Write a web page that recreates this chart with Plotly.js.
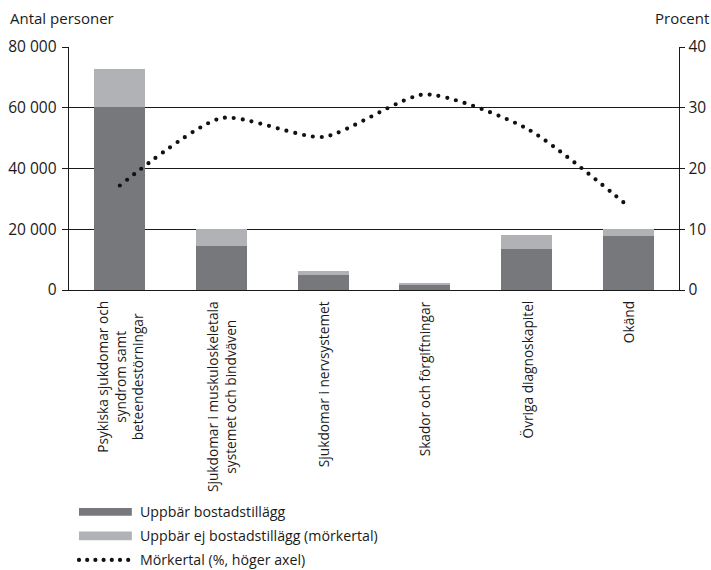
<!DOCTYPE html>
<html>
<head>
<meta charset="utf-8">
<script src="https://cdn.plot.ly/plotly-3.0.1.min.js"></script>
<style>
html,body{margin:0;padding:0;background:#fff;}
#chart{width:711px;height:570px;}
.scatterlayer .js-line{stroke-linecap:round;}
.shapelayer path{stroke-linecap:round;}
</style>
</head>
<body>
<div id="chart"></div>
<script>
// ---- data ----
var categories = [
  "Psykiska sjukdomar och<br>syndrom samt<br>beteendestörningar",
  "Sjukdomar i muskuloskeletala<br>systemet och bindväven",
  "Sjukdomar i nervsystemet",
  "Skador och förgiftningar",
  "Övriga diagnoskapitel",
  "Okänd"
];
var uppbar = [60200, 14500, 4900, 1800, 13400, 17700];          // Uppbär bostadstillägg
var ejUppbar = [12400, 5600, 1500, 500, 4700, 2400];            // Uppbär ej bostadstillägg (mörkertal)
var morkertal = [17.2, 28.3, 25.2, 32.2, 26.6, 13.8];            // Mörkertal (%)
var seriesNames = ["Uppbär bostadstillägg", "Uppbär ej bostadstillägg (mörkertal)", "Mörkertal (%, höger axel)"];
var leftTitle = "Antal personer";
var rightTitle = "Procent";

var FONT = "Open Sans, Noto Sans, sans-serif";
var TXT = "#1a1a1a";
var DARK = "#77787c";
var LIGHT = "#b1b2b5";

var traces = [
  {type: "bar", x: categories, y: uppbar, name: seriesNames[0],
   marker: {color: DARK, line: {width: 0}}, showlegend: false, hoverinfo: "none"},
  {type: "bar", x: categories, y: ejUppbar, name: seriesNames[1],
   marker: {color: LIGHT, line: {width: 0}}, showlegend: false, hoverinfo: "none"},
  {type: "scatter", mode: "lines", x: categories, y: morkertal, yaxis: "y2", name: seriesNames[2],
   line: {color: "#111", width: 4.2, dash: "0px,9px", shape: "spline", smoothing: 0.65},
   showlegend: false, hoverinfo: "none"}
];

// x-axis labels (centred multi-line, rotated)
var annotations = categories.map(function (c) {
  return {xref: "x", yref: "paper", x: c, y: 0, yshift: -9, xanchor: "center", yanchor: "top",
          text: c, showarrow: false, textangle: -90, align: "center",
          font: {family: FONT, size: 13.7, color: TXT}};
});
annotations.push({xref: "paper", yref: "paper", x: -0.1, y: 1.119, xanchor: "left", yanchor: "middle",
  text: leftTitle, showarrow: false, font: {family: FONT, size: 15, color: TXT}});
annotations.push({xref: "paper", yref: "paper", x: 1.053, y: 1.119, xanchor: "right", yanchor: "middle",
  text: rightTitle, showarrow: false, font: {family: FONT, size: 15, color: TXT}});

// custom legend
var legY = [-0.913, -1.012, -1.111];
var legShapes = [
  {type: "rect", xref: "paper", yref: "paper", x0: 0.0164, x1: 0.103, y0: legY[0] - 0.016, y1: legY[0] + 0.016,
   fillcolor: DARK, line: {width: 0}},
  {type: "rect", xref: "paper", yref: "paper", x0: 0.0164, x1: 0.103, y0: legY[1] - 0.018, y1: legY[1] + 0.018,
   fillcolor: LIGHT, line: {width: 0}},
  {type: "line", xref: "paper", yref: "paper", x0: 0.0164, x1: 0.098, y0: legY[2], y1: legY[2],
   line: {color: "#111", width: 4.2, dash: "0px,8.2px"}}
];
seriesNames.forEach(function (n, i) {
  annotations.push({xref: "paper", yref: "paper", x: 0.113, y: legY[i], xanchor: "left", yanchor: "middle",
    text: n, showarrow: false, font: {family: FONT, size: 14.2, color: TXT}});
});

var layout = {
  width: 711, height: 570,
  margin: {l: 69, r: 32, t: 47, b: 280, pad: 0},
  paper_bgcolor: "#fff", plot_bgcolor: "#fff",
  barmode: "stack", bargap: 0.5,
  separators: ", ",
  font: {family: FONT, size: 14, color: TXT},
  showlegend: false,
  xaxis: {type: "category", showticklabels: false, ticks: "", showgrid: false,
          showline: true, linecolor: "#1a1a1a", linewidth: 1.4, mirror: false, zeroline: false, fixedrange: true},
  yaxis: {range: [0, 80000], dtick: 20000, tickformat: ",d", showgrid: true, gridcolor: "#1a1a1a", gridwidth: 1.3,
          showline: true, linecolor: "#1a1a1a", linewidth: 1.4, ticks: "outside", ticklen: 6, tickcolor: "#1a1a1a",
          zeroline: false, tickfont: {family: FONT, size: 15.5, color: TXT}, ticklabelstandoff: 2},
  yaxis2: {range: [0, 40], dtick: 10, overlaying: "y", side: "right", showgrid: false,
           showline: true, linecolor: "#1a1a1a", linewidth: 1.4, ticks: "outside", ticklen: 5, tickcolor: "#1a1a1a",
           zeroline: false, tickfont: {family: FONT, size: 15.5, color: TXT}},
  shapes: legShapes,
  annotations: annotations
};

Plotly.newPlot("chart", traces, layout, {staticPlot: true, displayModeBar: false});
</script>
</body>
</html>
